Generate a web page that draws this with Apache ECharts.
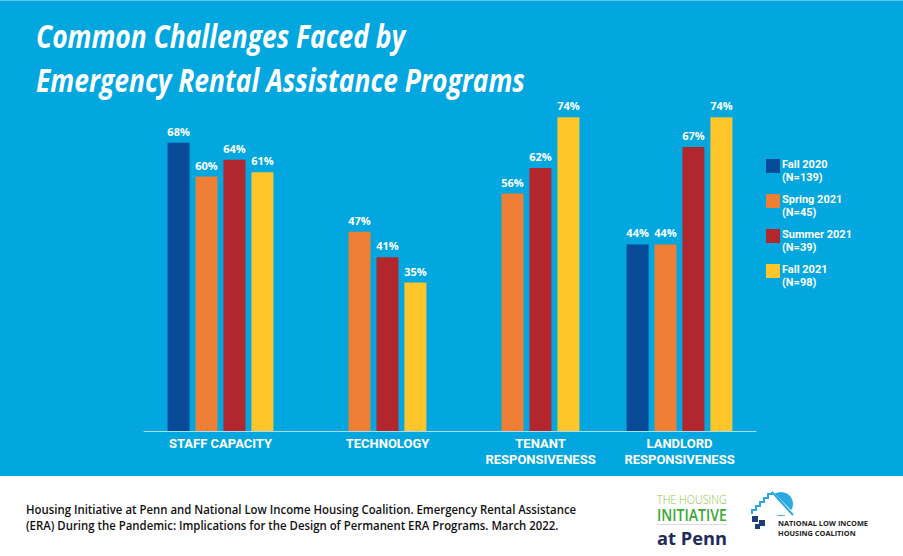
<!DOCTYPE html>
<html>
<head>
<meta charset="utf-8">
<script src="https://cdn.jsdelivr.net/npm/echarts@6/dist/echarts.min.js"></script>
<style>
html,body{margin:0;padding:0;}
#chart{width:903px;height:556px;background:linear-gradient(#02a7e0 0,#02a7e0 475px,#ffffff 475px,#ffffff 556px);box-sizing:border-box;border-top:1px solid #5cc6ec;}
</style>
</head>
<body>
<div id="chart"></div>
<script>
// ---- data ----
const categories = ['STAFF CAPACITY', 'TECHNOLOGY', 'TENANT\nRESPONSIVENESS', 'LANDLORD\nRESPONSIVENESS'];
const seriesNames = ['Fall 2020', 'Spring 2021', 'Summer 2021', 'Fall 2021'];
const sampleSizes = ['(N=139)', '(N=45)', '(N=39)', '(N=98)'];
const fall2020 = [68, null, null, 44];
const spring2021 = [60, 47, 56, 44];
const summer2021 = [64, 41, 62, 67];
const fall2021 = [61, 35, 74, 74];
const titleLines = ['Common Challenges Faced by', 'Emergency Rental Assistance Programs'];
const sourceLines = [
  'Housing Initiative at Penn and National Low Income Housing Coalition. Emergency Rental Assistance',
  '(ERA) During the Pandemic: Implications for the Design of Permanent ERA Programs. March 2022.'
];
const colors = ['#064a98', '#ee7f35', '#b2272e', '#fec62a'];
const seriesData = [fall2020, spring2021, summer2021, fall2021];

// ---- helpers ----
const mctx = document.createElement('canvas').getContext('2d');
function fitScale(text, font, target) {
  mctx.font = font;
  return target / mctx.measureText(text).width;
}
const titleFont = 'italic 700 33px "Open Sans"';
const titleScale = fitScale(titleLines[1], titleFont, 489);
const srcFont = '600 12px "Open Sans"';
const srcScale = fitScale(sourceLines[0], srcFont, 551);

function txt(x, y, text, font, fill, scaleX, align) {
  return {
    type: 'text', x: x, y: y, scaleX: scaleX || 1, silent: true,
    style: { text: text, font: font, fill: fill, align: align || 'left', verticalAlign: 'middle' }
  };
}

const f1 = '300 12px "Open Sans"', f2 = '600 16px "Open Sans"', f3 = '700 17px "Open Sans"', f4 = '700 7px "Open Sans"';

const graphics = [
  txt(36, 34, titleLines[0], titleFont, '#ffffff', titleScale),
  txt(36, 78, titleLines[1], titleFont, '#ffffff', titleScale),
  txt(26, 508, sourceLines[0], srcFont, '#111111', srcScale),
  txt(26, 524, sourceLines[1], srcFont, '#111111', srcScale),
  // Housing Initiative at Penn logo
  txt(657, 498, 'THE HOUSING', f1, '#8cc63f', fitScale('THE HOUSING', f1, 70)),
  txt(657, 514, 'INITIATIVE', f2, '#3aa935', fitScale('INITIATIVE', f2, 70)),
  { type: 'rect', shape: { x: 657, y: 523, width: 70, height: 1 }, style: { fill: '#d9d9d9' } },
  txt(657, 537, 'at Penn', f3, '#1e2b5c', fitScale('at Penn', f3, 70)),
  // NLIHC logo
  { type: 'circle', shape: { cx: 781, cy: 503, r: 12 }, style: { fill: '#2aa9e1' } },
  { type: 'polygon', shape: { points: [[750, 514], [772, 490], [796, 514]] }, style: { fill: '#ffffff' } },
  { type: 'polyline', shape: { points: [[752, 513], [752, 509], [756, 509], [756, 505], [760, 505], [760, 501], [764, 501], [764, 497], [768, 497], [768, 493], [772, 493], [772, 491]] }, style: { stroke: '#2aa9e1', lineWidth: 2, fill: null } },
  { type: 'polyline', shape: { points: [[772, 491], [793, 514]] }, style: { stroke: '#2aa9e1', lineWidth: 2, fill: null } },
  { type: 'rect', shape: { x: 752, y: 515, width: 6, height: 6 }, style: { fill: '#1b3f7a' } },
  { type: 'rect', shape: { x: 759, y: 519, width: 6, height: 6 }, style: { fill: '#1b3f7a' } },
  { type: 'rect', shape: { x: 755, y: 523, width: 5, height: 5 }, style: { fill: '#1b3f7a' } },
  txt(778, 522, 'NATIONAL LOW INCOME', f4, '#222222', fitScale('NATIONAL LOW INCOME', f4, 90)),
  txt(778, 532, 'HOUSING COALITION', f4, '#222222', fitScale('NATIONAL LOW INCOME', f4, 90))
];

const chart = echarts.init(document.getElementById('chart'), null, { renderer: 'svg' });
chart.setOption({
  backgroundColor: 'transparent',
  animation: false,
  color: colors,
  textStyle: { fontFamily: '"Open Sans", sans-serif' },
  grid: { left: 144, right: 147, top: 6, bottom: 125, containLabel: false },
  legend: [
    {
      // colour swatches
      orient: 'vertical', left: 766, top: 158, padding: 0, itemWidth: 14, itemHeight: 14, itemGap: 21,
      icon: 'rect', selectedMode: false, data: seriesNames,
      formatter: function () { return ''; },
      textStyle: { fontSize: 11, lineHeight: 14 }
    },
    {
      // two-line labels
      orient: 'vertical', left: 777, top: 157, padding: 0, itemWidth: 0, itemHeight: 14, itemGap: 9,
      icon: 'none', selectedMode: false, data: seriesNames,
      formatter: function (name) { return name + '\n' + sampleSizes[seriesNames.indexOf(name)]; },
      textStyle: { color: '#ffffff', fontSize: 11, fontWeight: 700, lineHeight: 13, fontFamily: 'Roboto' }
    }
  ],
  xAxis: {
    type: 'category', data: categories,
    axisLine: { lineStyle: { color: '#a9def5', width: 1 } },
    axisTick: { show: false },
    axisLabel: {
      interval: 0,
      margin: 5,
      formatter: function (value, idx) {
        const tag = fall2020[idx] == null ? 'o' : 's';
        return value.split('\n').map(function (l) { return '{' + tag + '|' + l + '}'; }).join('\n');
      },
      rich: {
        s: { color: '#ffffff', fontSize: 13, fontWeight: 700, lineHeight: 15.5, fontFamily: 'Roboto' },
        o: { color: '#ffffff', fontSize: 13, fontWeight: 700, lineHeight: 15.5, fontFamily: 'Roboto', padding: [0, 0, 0, 28] }
      }
    }
  },
  yAxis: { type: 'value', min: 0, max: 100, show: false, splitLine: { show: false } },
  series: seriesNames.map(function (n, i) {
    return {
      name: n, type: 'bar', data: seriesData[i], barWidth: 22, barGap: '27%',
      itemStyle: { color: colors[i] },
      label: {
        show: true, position: 'top', distance: 6, color: '#ffffff', fontSize: 11, fontWeight: 700,
        formatter: function (p) { return p.value + '%'; }
      }
    };
  }),
  graphic: graphics
});
</script>
</body>
</html>
